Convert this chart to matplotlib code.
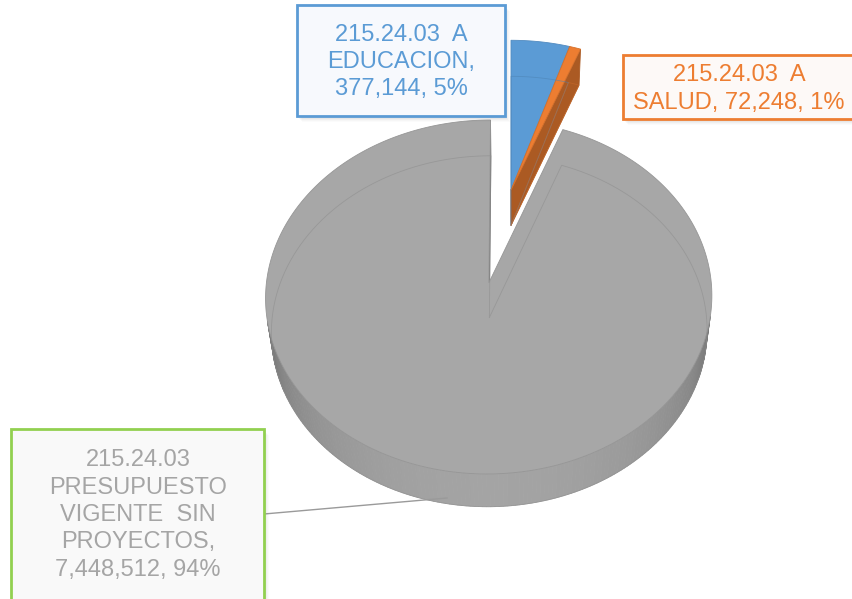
import numpy as np
import matplotlib
matplotlib.use("Agg")
import matplotlib.pyplot as plt
from matplotlib.patches import Polygon, Rectangle

# ---- data ----
categories = ["215.24.03  A\nEDUCACION", "215.24.03  A\nSALUD",
              "215.24.03\nPRESUPUESTO\nVIGENTE  SIN\nPROYECTOS"]
values = [377144, 72248, 7448512]

# ---- style ----
top_colors = ["#5B9BD5", "#ED7D31", "#A7A7A7"]
text_colors = ["#5B9BD5", "#ED7D31", "#A5A5A5"]
box_edge = ["#5B9BD5", "#ED7D31", "#92D050"]
box_face = ["#F7F9FD", "#FDF9F7", "#F9F9F9"]
explode = [0.0, 0.0, 0.56]

# ---- 3D pie view parameters ----
W, H = 853, 599
alpha = np.radians(49.2)
D = 8.5
S = 213.0
cx, cy = 511.0, 190.0
h = 0.26

fig = plt.figure(figsize=(W / 100, H / 100), dpi=100)
ax = fig.add_axes([0, 0, 1, 1])
ax.set_xlim(0, W)
ax.set_ylim(H, 0)
ax.axis("off")

cam = np.array([0.0, D * np.sin(alpha), D * np.cos(alpha)])


def proj(X, Y, Z):
    X = np.asarray(X, float); Y = np.asarray(Y, float); Z = np.asarray(Z, float)
    up = Y * np.cos(alpha) - Z * np.sin(alpha)
    dep = Y * np.sin(alpha) + Z * np.cos(alpha)
    s = D / (D - dep)
    return cx + S * X * s, cy - S * up * s


def shade(color, f):
    c = np.array(matplotlib.colors.to_rgb(color))
    return tuple(np.clip(c * f, 0, 1))


total = float(sum(values))
fracs = [v / total for v in values]
angles = np.concatenate([[0], np.cumsum(fracs) * 360.0])

for i, (v, col) in enumerate(zip(values, top_colors)):
    t0, t1 = np.radians(angles[i]), np.radians(angles[i + 1])
    tm = 0.5 * (t0 + t1)
    ox, oz = explode[i] * np.sin(tm), -explode[i] * np.cos(tm)
    th = np.linspace(t0, t1, max(8, int((t1 - t0) / np.radians(1.0))))
    ax_top = ox + np.sin(th); az_top = oz - np.cos(th)

    # outer rim (front-facing quads)
    for k in range(len(th) - 1):
        a = 0.5 * (th[k] + th[k + 1])
        n = np.array([np.sin(a), 0, -np.cos(a)])
        p = np.array([ox + np.sin(a), -h / 2, oz - np.cos(a)])
        if np.dot(n, cam - p) <= 0:
            continue
        f = 0.62 + 0.36 * max(0.0, -np.cos(a)) ** 0.8
        xs, ys = proj([ax_top[k], ax_top[k + 1], ax_top[k + 1], ax_top[k]],
                      [0, 0, -h, -h],
                      [az_top[k], az_top[k + 1], az_top[k + 1], az_top[k]])
        c = shade(col, f)
        ax.add_patch(Polygon(np.c_[xs, ys], closed=True, fc=c, ec=c, lw=0.6))

    # radial cut faces
    for t, sgn in ((t0, -1), (t1, 1)):
        n = np.array([np.sin(t + sgn * np.pi / 2), 0, -np.cos(t + sgn * np.pi / 2)])
        p = np.array([ox + 0.5 * np.sin(t), -h / 2, oz - 0.5 * np.cos(t)])
        if np.dot(n, cam - p) <= 0:
            continue
        ex, ez = ox + np.sin(t), oz - np.cos(t)
        xs, ys = proj([ox, ex, ex, ox], [0, 0, -h, -h], [oz, ez, ez, oz])
        c = shade(col, 0.72)
        ax.add_patch(Polygon(np.c_[xs, ys], closed=True, fc=c, ec=c, lw=0.6))

    # top face
    xs, ys = proj(np.r_[ox, ax_top], np.zeros(len(th) + 1), np.r_[oz, az_top])
    ax.add_patch(Polygon(np.c_[xs, ys], closed=True, fc=col, ec=shade(col, 0.9), lw=0.6))

    # faint hidden bottom edges
    bx, by = proj(np.r_[ox, ax_top, ox], np.full(len(th) + 2, -h), np.r_[oz, az_top, oz])
    ax.plot(bx, by, color=shade(col, 0.85), lw=0.6, alpha=0.6)

# ---- labels ----
boxes = [(297, 5, 208, 111), (623, 55, 235, 64), (11, 429, 253, 175)]
text_pos = [(401, 62), (739, 89), (138, 515)]
for i, (cat, v) in enumerate(zip(categories, values)):
    bx, by, bw, bh = boxes[i]
    for k, a in enumerate([0.06, 0.05, 0.04, 0.03]):
        ax.add_patch(Rectangle((bx + 2 + k, by + 3 + k), bw, bh, fc="#808080",
                               ec="none", alpha=a, zorder=4))
    ax.add_patch(Rectangle((bx, by), bw, bh, fc=box_face[i], ec=box_edge[i],
                           lw=2.0, zorder=5))
    pct = 100.0 * v / total
    if i == 1:
        label = f"{cat}, {v:,}, {pct:.0f}%"
    else:
        label = f"{cat},\n{v:,}, {pct:.0f}%"
    ax.text(text_pos[i][0], text_pos[i][1], label, ha="center", va="center",
            fontsize=17, color=text_colors[i], family="Liberation Sans",
            linespacing=1.32, zorder=6)

# leader line for big slice
ax.plot([264, 447], [514, 498], color="#9A9A9A", lw=1.0, zorder=3)

fig.savefig("out.png", dpi=100)
